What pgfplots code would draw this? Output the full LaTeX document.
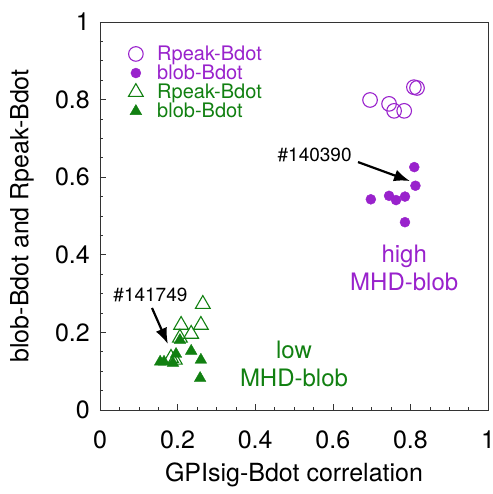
\documentclass[border=0pt]{standalone}
\usepackage{fontspec}
\setmainfont{TeX Gyre Heros}
\usepackage{pgfplots}
\pgfplotsset{compat=1.18}
\usetikzlibrary{arrows.meta}
\definecolor{mpurple}{RGB}{153,34,204}
\definecolor{mgreen}{RGB}{17,128,17}
\begin{document}
\begin{tikzpicture}
\begin{axis}[name=ax, scale only axis, width=388pt, height=388pt,
  xmin=0, xmax=1, ymin=0, ymax=1,
  xtick={0,0.2,0.4,0.6,0.8,1}, ytick={0,0.2,0.4,0.6,0.8,1},
  minor tick num=3, tick align=inside, tick pos=left,
  major tick length=6pt, minor tick length=3.5pt,
  axis line style={line width=0.8pt, black!80},
  every tick/.style={black!80, line width=0.6pt},
  /pgf/number format/assume math mode=true,
  tick label style={font=\fontsize{25}{30}\selectfont},
  xticklabel style={anchor=north, inner sep=0pt, yshift=-21pt},
  yticklabel style={anchor=east, inner sep=0pt, xshift=-10pt},
  label style={font=\fontsize{25}{30}\selectfont},
  xlabel={GPIsig-Bdot correlation},
  ylabel={blob-Bdot and Rpeak-Bdot},
  xlabel style={at={(axis description cs:0.5,-0.168)}, anchor=center},
  ylabel style={at={(axis description cs:-0.201,0.5)}, anchor=center},
  legend style={at={(axis cs:0.073,0.944)}, anchor=north west, draw=none, fill=none,
    font=\fontsize{20}{23}\selectfont, inner sep=0pt, row sep=-1pt, column sep=12pt,
    cells={anchor=west, inner ysep=1pt}},
]
\addplot[only marks, mark=o, mark size=7.3pt, mpurple, line width=1.1pt] coordinates {
(0.696,0.799) (0.745,0.789) (0.758,0.771) (0.784,0.771) (0.809,0.832) (0.817,0.830)};
\addlegendentry[text=mpurple]{Rpeak-Bdot}
\addplot[only marks, mark=*, mark size=5pt, mpurple, fill=mpurple] coordinates {
(0.810,0.626) (0.813,0.578) (0.698,0.543) (0.745,0.552) (0.763,0.541) (0.786,0.550) (0.786,0.484)};
\addlegendentry[text=mpurple]{blob-Bdot}
\addplot[only marks, mark=triangle, mark size=8.5pt, mgreen, line width=1.1pt] coordinates {
(0.265,0.273) (0.209,0.219) (0.260,0.219) (0.235,0.196) (0.206,0.186) (0.183,0.134) (0.193,0.129)};
\addlegendentry[text=mgreen]{Rpeak-Bdot}
\addplot[only marks, mark=triangle*, mark size=6.7pt, mgreen, fill=mgreen] coordinates {
(0.206,0.180) (0.235,0.152) (0.196,0.144) (0.155,0.124) (0.165,0.124) (0.188,0.121) (0.260,0.129) (0.258,0.082)};
\addlegendentry[text=mgreen]{blob-Bdot}
\node[mpurple, align=center, font=\fontsize{24}{28}\selectfont] at (axis cs:0.784,0.367) {high\\MHD-blob};
\node[mgreen, align=center, font=\fontsize{24}{28}\selectfont] at (axis cs:0.500,0.119) {low\\MHD-blob};
\node[font=\fontsize{19}{22}\selectfont, anchor=east, inner sep=0pt] at (axis cs:0.649,0.657) {\#140390};
\node[font=\fontsize{19}{22}\selectfont, anchor=center, inner sep=0pt] at (axis cs:0.130,0.296) {\#141749};
\draw[-{Latex[length=16pt,width=12pt]}, line width=2.2pt] (axis cs:0.665,0.639) -- (axis cs:0.799,0.590);
\draw[-{Latex[length=16pt,width=12pt]}, line width=2.2pt] (axis cs:0.134,0.263) -- (axis cs:0.175,0.170);
\end{axis}
\pgfresetboundingbox
\path[use as bounding box] (ax.south west) ++(-100pt,-84pt) rectangle ++(492pt,494pt);
\end{tikzpicture}
\end{document}
